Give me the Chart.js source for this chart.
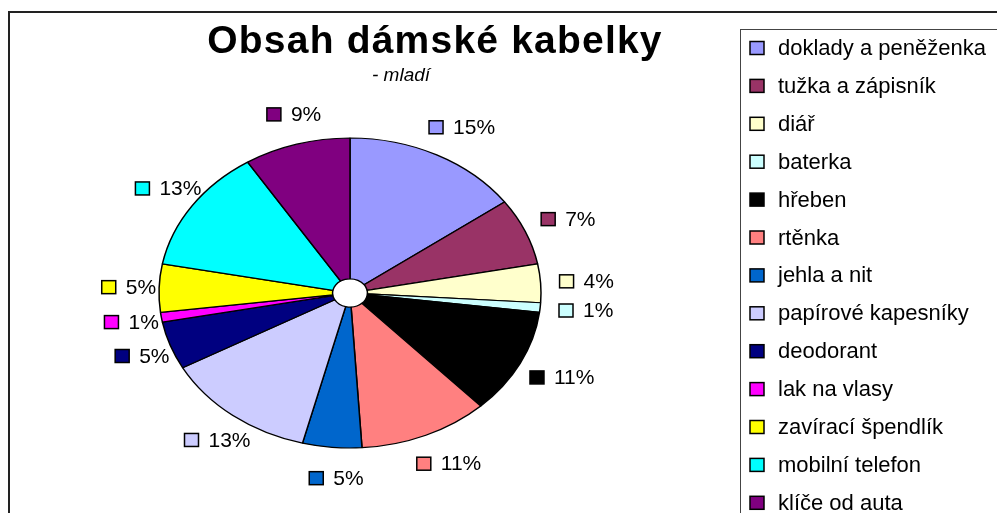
<!DOCTYPE html>
<html>
<head>
<meta charset="utf-8">
<script src="https://cdn.jsdelivr.net/npm/chart.js@4.4.1/dist/chart.umd.min.js"></script>
<style>
    html, body { margin: 0; padding: 0; background: #fff; overflow: hidden; }
    #wrap { position: relative; width: 997px; height: 513px; }
    #frame {
        position: absolute; left: 8px; top: 11px; width: 1100px; height: 600px;
        border: 2px solid #222; box-sizing: border-box;
    }
    #legendBox {
        position: absolute; left: 740px; top: 29px; width: 400px; height: 600px;
        border: 1px solid #444; box-sizing: border-box;
    }
    canvas { position: absolute; left: 0; top: 0; }
</style>
</head>
<body>
<div id="wrap">
    <div id="frame"></div>
    <div id="legendBox"></div>
    <canvas id="bagChart" width="997" height="513"></canvas>
</div>
<script>
// Contents of a lady's handbag, share of answers
const categories = [
    "doklady a peněženka", "tužka a zápisník", "diář", "baterka", "hřeben",
    "rtěnka", "jehla a nit", "papírové kapesníky", "deodorant", "lak na vlasy",
    "zavírací špendlík", "mobilní telefon", "klíče od auta"
];
const shares = [15, 7, 4, 1, 11, 11, 5, 13, 5, 1, 5, 13, 9];
const sliceColors = [
    "#9999FF", "#993366", "#FFFFCC", "#CCFFFF", "#000000",
    "#FF8080", "#0066CC", "#CCCCFF", "#000080", "#FF00FF",
    "#FFFF00", "#00FFFF", "#800080"
];

const SQUASH = 155 / 191; // pie is drawn as a flattened ellipse
const FONT = "'Liberation Sans', Arial, sans-serif";

// squash the pie vertically around its centre
const ellipsePlugin = {
    id: "ellipse",
    beforeDatasetsDraw(chart) {
        const arc = chart.getDatasetMeta(0).data[0];
        const ctx = chart.ctx;
        ctx.save();
        ctx.translate(arc.x, arc.y);
        ctx.scale(1, SQUASH);
        ctx.translate(-arc.x, -arc.y);
    },
    afterDatasetsDraw(chart) {
        chart.ctx.restore();
    }
};

function drawKey(ctx, x, y, color) {
    ctx.fillStyle = color;
    ctx.fillRect(x, y - 6.5, 14, 13);
    ctx.lineWidth = 1.5;
    ctx.strokeStyle = "#000";
    ctx.strokeRect(x, y - 6.5, 14, 13);
}

// percentage labels, titles and the legend
const decorPlugin = {
    id: "decor",
    afterDraw(chart) {
        const ctx = chart.ctx;
        const meta = chart.getDatasetMeta(0);
        const data = chart.data.datasets[0].data;
        const total = data.reduce((a, b) => a + b, 0);

        ctx.save();
        ctx.font = "21px " + FONT;
        ctx.textBaseline = "middle";
        ctx.textAlign = "left";
        meta.data.forEach((arc, i) => {
            const mid = (arc.startAngle + arc.endAngle) / 2;
            const r = arc.outerRadius * 1.2;
            const px = arc.x + Math.cos(mid) * r + 8;
            const py = arc.y + Math.sin(mid) * r * SQUASH;
            const text = Math.round(data[i] / total * 100) + "%";
            const w = 14 + 10 + ctx.measureText(text).width;
            const left = px - w / 2;
            drawKey(ctx, left, py, sliceColors[i]);
            ctx.fillStyle = "#000";
            ctx.fillText(text, left + 24, py + 1);
        });

        // title
        ctx.textAlign = "center";
        ctx.textBaseline = "alphabetic";
        ctx.font = "bold 39px " + FONT;
        ctx.letterSpacing = "1.2px";
        ctx.fillText("Obsah dámské kabelky", 435, 53);
        ctx.letterSpacing = "0px";
        ctx.textAlign = "left";
        ctx.font = "italic 19px " + FONT;
        ctx.fillText("- mladí", 372, 81);

        // legend
        ctx.font = "22px " + FONT;
        ctx.textBaseline = "middle";
        chart.data.labels.forEach((label, i) => {
            const y = 48 + i * 37.9;
            drawKey(ctx, 750, y, sliceColors[i]);
            ctx.fillStyle = "#000";
            ctx.fillText(label, 778, y + 1);
        });
        ctx.restore();
    }
};

new Chart(document.getElementById("bagChart"), {
    type: "pie",
    data: {
        labels: categories,
        datasets: [{
            data: shares,
            backgroundColor: sliceColors,
            borderColor: "#000",
            borderWidth: 1.5,
            radius: 191,
            cutout: 20
        }]
    },
    options: {
        responsive: false,
        animation: false,
        layout: { padding: { left: 2, right: 299, top: 73, bottom: 0 } },
        plugins: {
            legend: { display: false },
            title: { display: false },
            tooltip: { enabled: false }
        }
    },
    plugins: [ellipsePlugin, decorPlugin]
});
</script>
</body>
</html>
